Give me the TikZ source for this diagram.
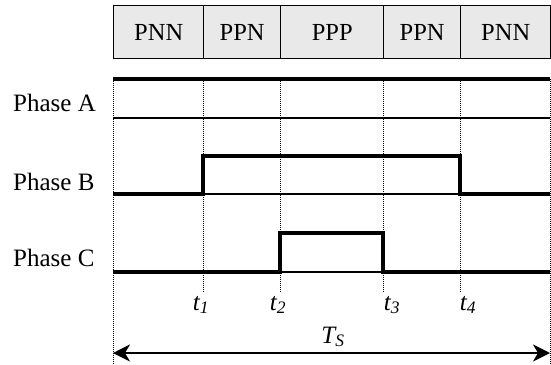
\documentclass[tikz,border=0pt]{standalone}
\usepackage{fontspec}
\setmainfont{Liberation Serif}
\usetikzlibrary{arrows.meta}
\definecolor{cellgray}{HTML}{E9E9E9}
\tikzset{
  cell/.style={draw=black, line width=1.4pt, fill=cellgray, minimum height=53pt, inner sep=0pt, anchor=north west, font=\fontsize{24.5}{28}\selectfont},
  sig/.style={line width=4pt, line cap=butt, line join=miter},
  base/.style={line width=1.2pt},
  guide/.style={line width=1pt, dash pattern=on 1pt off 1pt},
  lbl/.style={font=\fontsize{25}{28}\selectfont, inner sep=0pt},
  period/.style={line width=1.4pt, arrows={Stealth[length=17pt,width=17pt,inset=5pt]-Stealth[length=17pt,width=17pt,inset=5pt]}},
}
\begin{document}
\begin{tikzpicture}[x=1pt,y=-1pt]
\useasboundingbox (0,0) rectangle (551,364);
% switching states
\node[cell, minimum width=90pt] (s1) at (113,5) {PNN};
\node[cell, minimum width=77pt] (s2) at (203,5) {PPN};
\node[cell, minimum width=103pt] (s3) at (280,5) {PPP};
\node[cell, minimum width=77pt] (s4) at (383,5) {PPN};
\node[cell, minimum width=90pt] (s5) at (460,5) {PNN};
% instants
\coordinate (g0t) at (113,79); \coordinate (g0b) at (113,364);
\coordinate (g1t) at (203,79); \coordinate (g1b) at (203,293);
\coordinate (g2t) at (280,79); \coordinate (g2b) at (280,293);
\coordinate (g3t) at (383,79); \coordinate (g3b) at (383,293);
\coordinate (g4t) at (460,79); \coordinate (g4b) at (460,293);
\coordinate (g5t) at (550,79); \coordinate (g5b) at (550,364);
\foreach \i in {0,...,5} \draw[guide] (g\i t) -- (g\i b);
% phase labels
\node[lbl, anchor=west] (pa) at (13,103) {Phase A};
\node[lbl, anchor=west] (pb) at (13,182) {Phase B};
\node[lbl, anchor=west] (pc) at (13,258) {Phase C};
% phase A
\draw[base] (113,118) -- (550,118);
\draw[sig] (113,79) -- (550,79);
% phase B
\draw[base] (203,194) -- (460,194);
\draw[sig] (113,194) -- (203,194) -- (203,156) -- (460,156) -- (460,194) -- (550,194);
% phase C
\draw[base] (280,272) -- (383,272);
\draw[sig] (113,272) -- (280,272) -- (280,233) -- (383,233) -- (383,272) -- (550,272);
% time labels
\node[lbl] (t1) at (201,305) {\textit{t\textsubscript{1}}};
\node[lbl] (t2) at (278,305) {\textit{t\textsubscript{2}}};
\node[lbl] (t3) at (392,305) {\textit{t\textsubscript{3}}};
\node[lbl] (t4) at (468,305) {\textit{t\textsubscript{4}}};
\node[lbl] (ts) at (333,337) {\textit{T\textsubscript{S}}};
% period arrow
\coordinate (al) at (113,353);
\coordinate (ar) at (550,353);
\draw[period] (al) -- (ar);
\end{tikzpicture}
\end{document}
